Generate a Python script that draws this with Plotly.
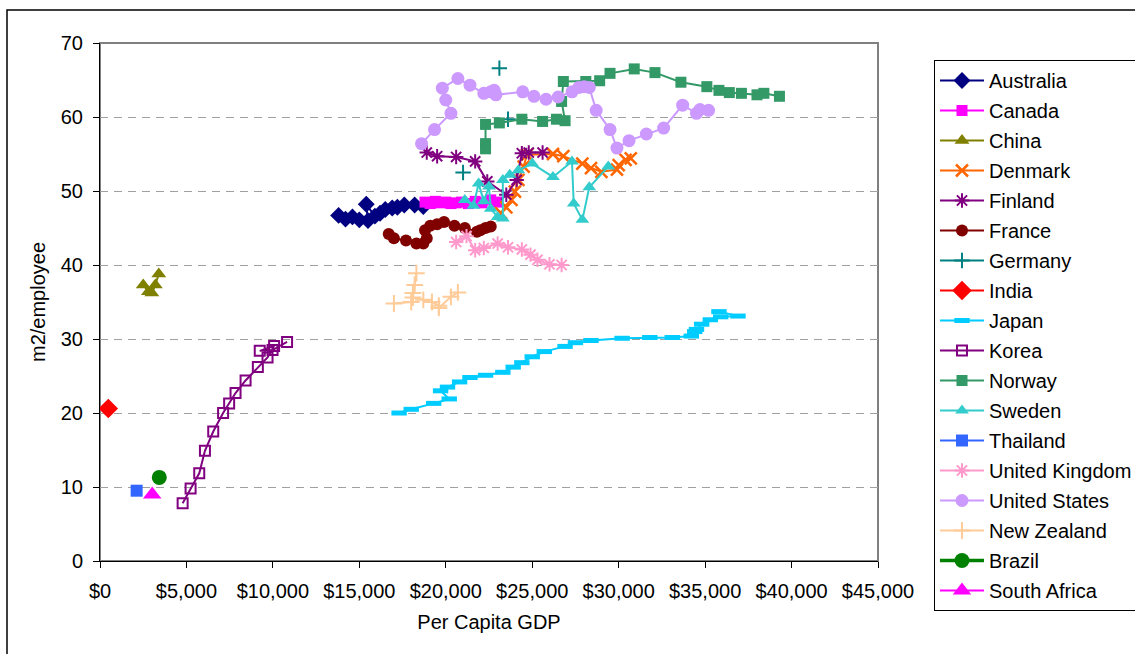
import plotly.graph_objects as go

# ---------------- data (GDP in US$, value in m2/employee) ----------------
australia_x = [13800, 14200, 14600, 15000, 15500, 15400, 15900, 16200, 16500, 16900, 17200, 17600, 18200, 18700]
australia_y = [46.7, 46.2, 46.5, 46.1, 46.0, 48.2, 46.6, 47.0, 47.5, 47.7, 47.8, 48.1, 48.1, 47.9]

canada_x = [18800, 19100, 19400, 19700, 20000, 20300, 20600, 20900, 21300, 21700, 22100, 22600, 23000]
canada_y = [48.5, 48.3, 48.6, 48.4, 48.5, 48.3, 48.4, 48.5, 48.3, 48.6, 48.4, 48.8, 48.5]

china_x = [2500, 2800, 3000, 3200, 3400]
china_y = [37.3, 36.4, 36.2, 37.3, 38.8]

denmark_x = [23200, 23500, 23800, 24000, 24200, 24500, 24700, 26200, 26800, 27900, 28400, 29000, 29900, 30000, 30400, 30700]
denmark_y = [47.0, 47.8, 48.8, 49.9, 51.5, 53.3, 54.9, 55.0, 54.7, 53.7, 53.1, 52.6, 52.9, 53.5, 54.2, 54.4]

finland_x = [18900, 19500, 20600, 21700, 22400, 23500, 24100, 24400, 24800, 25600]
finland_y = [55.2, 54.7, 54.6, 54.0, 51.3, 49.5, 51.5, 55.1, 55.2, 55.2]

france_x = [16700, 17000, 17700, 18300, 18700, 18900, 18800, 19100, 19500, 19900, 20500, 21100, 21800, 22000, 22300, 22600]
france_y = [44.2, 43.6, 43.3, 42.9, 42.9, 43.6, 44.7, 45.3, 45.5, 45.8, 45.3, 45.0, 44.5, 44.7, 45.0, 45.2]

germany_x = [21000, None, 23600, None, 23100]
germany_y = [52.5, None, 59.7, None, 66.6]

india_x = [480]
india_y = [20.6]

japan_x = [17300, 18000, 19300, 20200, 19700, 20100, 20800, 21400, 22300, 23300, 23900, 24400, 25000, 25700,
           26900, 27500, 28400, 30200, 31800, 33100, 34200, 34400, 34500, 34800, 35300, 35900, 36900, 35800]
japan_y = [20.0, 20.5, 21.3, 21.9, 23.0, 23.5, 24.2, 24.8, 25.1, 25.5, 26.2, 26.8, 27.6, 28.3,
           29.0, 29.5, 29.8, 30.1, 30.2, 30.2, 30.4, 31.0, 31.3, 32.0, 32.6, 33.0, 33.1, 33.7]

korea_x = [4780, 5240, 5740, 6070, 6550, 7120, 7470, 7840, 8420, 9130, 9690, 10070, 9240, 9980, 10820]
korea_y = [7.8, 9.8, 11.85, 14.9, 17.5, 20.0, 21.3, 22.7, 24.4, 26.2, 27.5, 29.05, 28.4, 28.5, 29.6]

norway_x = [22300, 22300, 22300, 23100, 24400, 25600, 26400, 26900, 26700, 26800, 28100, 28900, 29500, 30900,
            32100, 33600, 35100, 35800, 36400, 37100, 38000, 38400, 39300]
norway_y = [55.7, 56.4, 59.0, 59.2, 59.7, 59.4, 59.7, 59.5, 62.1, 64.8, 64.8, 64.9, 65.9, 66.5,
            66.0, 64.7, 64.1, 63.6, 63.3, 63.2, 63.0, 63.2, 62.8]

sweden_x = [21100, 21600, 21900, 22200, 22500, 22600, 23000, 23300, 23300, 23700, 24200, 25000, 26200, 27300,
            27400, 27900, 28300, 29400]
sweden_y = [48.8, 48.0, 51.0, 48.6, 50.6, 47.6, 46.5, 46.3, 51.5, 52.2, 52.8, 53.7, 51.9, 54.0,
            48.3, 46.1, 50.5, 53.3]

thailand_x = [2120]
thailand_y = [9.5]

uk_x = [20600, 21200, 21700, 22200, 23000, 23600, 24400, 24900, 25300, 26000, 26700]
uk_y = [43.1, 43.9, 42.0, 42.3, 42.9, 42.4, 42.1, 41.4, 40.7, 40.1, 40.0]

us_x = [18600, 19350, 20300, 20000, 19800, 20700, 21400, 22200, 22600, 22800, 22900, 24450, 25100, 25800,
        26500, 27300, 27700, 28000, 28300, 28700, 29500, 29900, 30600, 31600, 32600, 33700, 34500, 34700, 35200]
us_y = [56.4, 58.3, 60.5, 62.3, 63.9, 65.2, 64.3, 63.2, 63.4, 63.6, 63.0, 63.4, 62.8, 62.4,
        62.7, 63.4, 64.0, 64.1, 64.0, 60.9, 58.3, 55.8, 56.8, 57.7, 58.5, 61.6, 60.5, 61.0, 60.9]

nz_x = [17000, 18000, 18300, 18200, 18100, 18100, 18700, 19200, 19600, 19600, 20300, 20700]
nz_y = [34.8, 35.0, 38.9, 37.3, 36.2, 35.6, 35.3, 35.0, 34.5, 34.2, 35.7, 36.3]

brazil_x = [3430]
brazil_y = [11.3]

south_africa_x = [3020]
south_africa_y = [9.0]

x_ticks = [0, 5000, 10000, 15000, 20000, 25000, 30000, 35000, 40000, 45000]
x_tick_labels = ["$0", "$5,000", "$10,000", "$15,000", "$20,000", "$25,000",
                 "$30,000", "$35,000", "$40,000", "$45,000"]
y_ticks = [0, 10, 20, 30, 40, 50, 60, 70]

# ---------------- styling per series ----------------
series = [
    ("Australia", australia_x, australia_y, "#000080", "diamond", 13, 2, 0),
    ("Canada", canada_x, canada_y, "#FF00FF", "square", 11, 2, 0),
    ("China", china_x, china_y, "#808000", "triangle-up", 13, 2, 0),
    ("Denmark", denmark_x, denmark_y, "#FF6600", "x-thin-open", 12, 2, 2.5),
    ("Finland", finland_x, finland_y, "#800080", "asterisk-open", 12, 2, 2),
    ("France", france_x, france_y, "#800000", "circle", 12, 2, 0),
    ("Germany", germany_x, germany_y, "#008080", "cross-thin-open", 11, 2, 2),
    ("India", india_x, india_y, "#FF0000", "diamond", 15, 2, 0),
    ("Japan", japan_x, japan_y, "#00CCFF", "line-ew-open", 11, 2, 5),
    ("Korea", korea_x, korea_y, "#800080", "square-open", 10, 2, 2),
    ("Norway", norway_x, norway_y, "#339966", "square", 11, 2, 0),
    ("Sweden", sweden_x, sweden_y, "#33CCCC", "triangle-up", 12, 2, 0),
    ("Thailand", thailand_x, thailand_y, "#3366FF", "square", 12, 2, 0),
    ("United Kingdom", uk_x, uk_y, "#FF99CC", "asterisk-open", 12, 2, 2),
    ("United States", us_x, us_y, "#CC99FF", "circle", 13, 2, 0),
    ("New Zealand", nz_x, nz_y, "#FFCC99", "cross-thin-open", 12, 2, 2),
    ("Brazil", brazil_x, brazil_y, "#008000", "circle", 15, 3.5, 0),
    ("South Africa", south_africa_x, south_africa_y, "#FF00FF", "triangle-up", 16, 2, 0),
]

fig = go.Figure()
for i, (name, xs, ys, color, sym, size, lw, mlw) in enumerate(series):
    fig.add_trace(go.Scatter(
        x=xs, y=ys, name=name, mode="lines+markers",
        legendgroup="g%02d" % i,
        line=dict(color=color, width=lw),
        marker=dict(symbol=sym, size=size, color=color,
                    line=dict(color=color, width=mlw)),
        connectgaps=False,
    ))

W, H = 1135, 654
L, R, T, B = 100, 257, 43, 93
pw, ph = W - L - R, H - T - B


def px(xp):
    return (xp - L) / pw


def py(yp):
    return (H - B - yp) / ph


font = "Liberation Sans, Arial, sans-serif"
fig.update_layout(
    width=W, height=H,
    margin=dict(l=L, r=R, t=T, b=B, autoexpand=False),
    paper_bgcolor="white", plot_bgcolor="white",
    font=dict(family=font, size=20, color="black"),
    showlegend=True,
    legend=dict(
        x=px(934), y=py(60), xanchor="left", yanchor="top",
        bordercolor="black", borderwidth=1,
        font=dict(size=20), tracegroupgap=1,
        traceorder="grouped", itemwidth=44, maxheight=620,
    ),
    xaxis=dict(
        range=[0, 45000], tickvals=x_ticks, ticktext=x_tick_labels,
        showgrid=False, zeroline=False, showline=True, linecolor="black", linewidth=1,
        ticks="outside", ticklen=6, tickcolor="black", ticklabelstandoff=6,
        title=dict(text="Per Capita GDP", standoff=13, font=dict(size=20)),
        tickfont=dict(size=20),
    ),
    yaxis=dict(
        range=[0, 70], tickvals=y_ticks,
        showgrid=True, gridcolor="#A0A0A0", griddash="8px,6px", gridwidth=1,
        zeroline=False, showline=True, linecolor="black", linewidth=1,
        ticks="outside", ticklen=6, tickcolor="black", ticklabelstandoff=6,
        title=dict(text="m2/employee", standoff=9, font=dict(size=20)),
        tickfont=dict(size=20),
    ),
    shapes=[
        # gray plot-area border (top/right)
        dict(type="rect", xref="paper", yref="paper", x0=0, y0=0, x1=1, y1=1,
             line=dict(color="#808080", width=2), layer="below"),
        # outer chart border
        dict(type="rect", xref="paper", yref="paper", x0=px(7), y0=py(660), x1=px(1140), y1=py(10),
             line=dict(color="black", width=1.5), layer="below"),
    ],
)

fig.write_html("out.html", config={"displayModeBar": False},
               post_script="document.body.style.margin='0';")
